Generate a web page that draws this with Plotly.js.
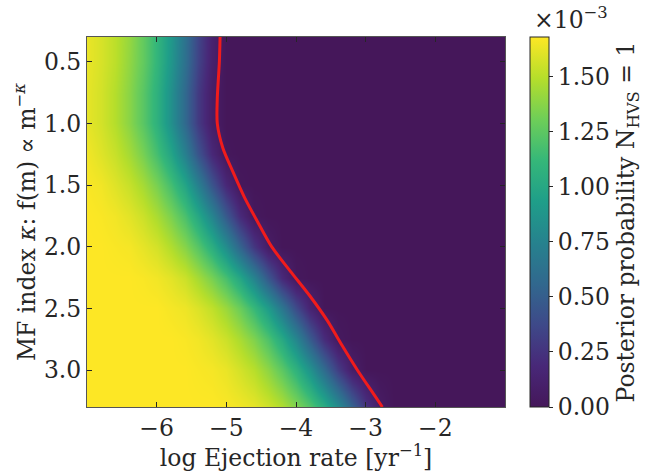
<!DOCTYPE html>
<html>
<head>
<meta charset="utf-8">
<script src="https://cdn.plot.ly/plotly-3.0.1.min.js"></script>
<style>html,body{margin:0;padding:0;background:#fff;}#chart{width:657px;height:472px;}</style>
</head>
<body>
<div id="chart"></div>
<script>
// log ejection rate grid (columns) and MF index grid (rows)
const logRate = [-7.0,-6.8,-6.6,-6.4,-6.2,-6.0,-5.8,-5.6,-5.4,-5.2,-5.0,-4.8,-4.6,-4.4,-4.2,-4.0,-3.8,-3.6,-3.4,-3.2,-3.0,-2.8,-2.6,-2.4,-2.2,-1.0];
const kappa = [0.3,0.5,0.75,1.0,1.25,1.5,1.75,2.0,2.25,2.5,2.75,3.0,3.3];
// posterior probability (units of 1e-3), one row per kappa
const posterior = [
  [1.63,1.58,1.51,1.41,1.27,1.10,0.89,0.63,0.35,0.12,0,0,0,0,0,0,0,0,0,0,0,0,0,0,0,0],
  [1.63,1.58,1.51,1.40,1.27,1.10,0.88,0.62,0.34,0.11,0,0,0,0,0,0,0,0,0,0,0,0,0,0,0,0],
  [1.62,1.57,1.49,1.38,1.24,1.07,0.84,0.57,0.29,0.08,0,0,0,0,0,0,0,0,0,0,0,0,0,0,0,0],
  [1.62,1.57,1.49,1.38,1.24,1.07,0.84,0.57,0.29,0.08,0,0,0,0,0,0,0,0,0,0,0,0,0,0,0,0],
  [1.65,1.60,1.54,1.45,1.33,1.17,0.98,0.73,0.44,0.18,0.01,0,0,0,0,0,0,0,0,0,0,0,0,0,0,0],
  [1.67,1.65,1.60,1.54,1.45,1.33,1.17,0.98,0.73,0.44,0.18,0.01,0,0,0,0,0,0,0,0,0,0,0,0,0,0],
  [1.68,1.67,1.65,1.61,1.55,1.46,1.34,1.19,1.00,0.76,0.47,0.20,0.02,0,0,0,0,0,0,0,0,0,0,0,0,0],
  [1.68,1.68,1.67,1.66,1.62,1.57,1.48,1.37,1.23,1.05,0.82,0.54,0.27,0.07,0,0,0,0,0,0,0,0,0,0,0,0],
  [1.68,1.68,1.68,1.68,1.67,1.65,1.61,1.55,1.45,1.33,1.18,0.99,0.75,0.46,0.19,0.02,0,0,0,0,0,0,0,0,0,0],
  [1.68,1.68,1.68,1.68,1.68,1.68,1.66,1.64,1.59,1.52,1.42,1.29,1.12,0.92,0.66,0.38,0.14,0,0,0,0,0,0,0,0,0],
  [1.68,1.68,1.68,1.68,1.68,1.68,1.68,1.67,1.65,1.61,1.55,1.46,1.35,1.20,1.01,0.77,0.48,0.21,0.03,0,0,0,0,0,0,0],
  [1.68,1.68,1.68,1.68,1.68,1.68,1.68,1.68,1.67,1.66,1.63,1.57,1.50,1.39,1.25,1.08,0.86,0.59,0.31,0.09,0,0,0,0,0,0],
  [1.68,1.68,1.68,1.68,1.68,1.68,1.68,1.68,1.68,1.68,1.67,1.65,1.62,1.56,1.48,1.36,1.22,1.04,0.81,0.53,0.25,0.06,0,0,0,0]
];
// red contour
const contourKappa = [0.30,0.50,0.80,1.00,1.20,1.40,1.60,1.80,2.00,2.20,2.40,2.60,2.80,3.00,3.20,3.30];
const contourRate  = [-5.09,-5.10,-5.13,-5.13,-5.05,-4.90,-4.74,-4.55,-4.35,-4.08,-3.80,-3.55,-3.34,-3.12,-2.88,-2.76];
// tick labels
const xTickVals = [-6,-5,-4,-3,-2];
const xTickText = ['\u22126','\u22125','\u22124','\u22123','\u22122'];
const yTickVals = [0.5,1.0,1.5,2.0,2.5,3.0];
const cbTickVals = [0,0.25,0.5,0.75,1.0,1.25,1.5];

const FONT = 'DejaVu Serif, serif';
const INK = '#262626';
const FS = 23.5;

const viridis = [
  [0.0,'#45175a'],[0.111,'#482878'],[0.222,'#3e4989'],[0.333,'#31688e'],[0.444,'#26828e'],
  [0.555,'#1f9e89'],[0.666,'#35b779'],[0.777,'#6ece58'],[0.888,'#b5de2b'],[1.0,'#fde725']
];

const traces = [
  {
    type: 'heatmap', x: logRate, y: kappa, z: posterior,
    colorscale: viridis, zmin: 0, zmax: 1.68, zsmooth: 'best',
    hoverinfo: 'skip',
    colorbar: {
      x: 1.06, xanchor: 'left', xpad: 0, y: 0.5, yanchor: 'middle', ypad: 0,
      len: 1, lenmode: 'fraction', thickness: 19, thicknessmode: 'pixels',
      outlinewidth: 1, outlinecolor: INK,
      tickvals: cbTickVals, tickformat: '.2f', ticks: 'outside', ticklen: 4,
      tickcolor: INK, tickwidth: 1,
      tickfont: {family: FONT, size: FS, color: INK},
      title: {text: 'Posterior probability N<sub>HVS</sub> = 1', side: 'right',
              font: {family: FONT, size: FS, color: INK}}
    }
  },
  {
    type: 'scatter', mode: 'lines', x: contourRate, y: contourKappa,
    line: {color: '#f01c1c', width: 3, shape: 'spline', smoothing: 0.8},
    hoverinfo: 'skip', showlegend: false
  }
];

const layout = {
  width: 657, height: 472,
  margin: {l: 87, r: 152, t: 37, b: 65},
  paper_bgcolor: '#fff', plot_bgcolor: '#fff',
  font: {family: FONT, size: FS, color: INK},
  showlegend: false,
  xaxis: {
    range: [-7, -1], tickvals: xTickVals, ticktext: xTickText,
    ticks: 'inside', ticklen: 5, tickwidth: 1, tickcolor: INK,
    showline: true, linecolor: '#555', linewidth: 1, mirror: 'allticks',
    showgrid: false, zeroline: false,
    tickfont: {family: FONT, size: FS, color: INK},
    title: {text: 'log Ejection rate [yr<sup>\u22121</sup>]', font: {family: FONT, size: FS, color: INK}, standoff: 4}
  },
  yaxis: {
    range: [3.3, 0.3], tickvals: yTickVals, tickformat: '.1f',
    ticks: 'inside', ticklen: 5, tickwidth: 1, tickcolor: INK,
    showline: true, linecolor: '#555', linewidth: 1, mirror: 'allticks',
    showgrid: false, zeroline: false,
    tickfont: {family: FONT, size: FS, color: INK},
    title: {text: 'MF index <i>\u03ba</i>: f(m) \u221d m<sup>\u2212<i>\u03ba</i></sup>', font: {family: FONT, size: FS, color: INK}, standoff: 1}
  },
  annotations: [
    {xref: 'paper', yref: 'paper', x: 1.065, y: 1.0, xanchor: 'left', yanchor: 'bottom', yshift: 1,
     text: '\u00d710<sup>\u22123</sup>', showarrow: false,
     font: {family: FONT, size: FS, color: INK}}
  ]
};

Plotly.newPlot('chart', traces, layout, {displayModeBar: false, staticPlot: true});
</script>
</body>
</html>
